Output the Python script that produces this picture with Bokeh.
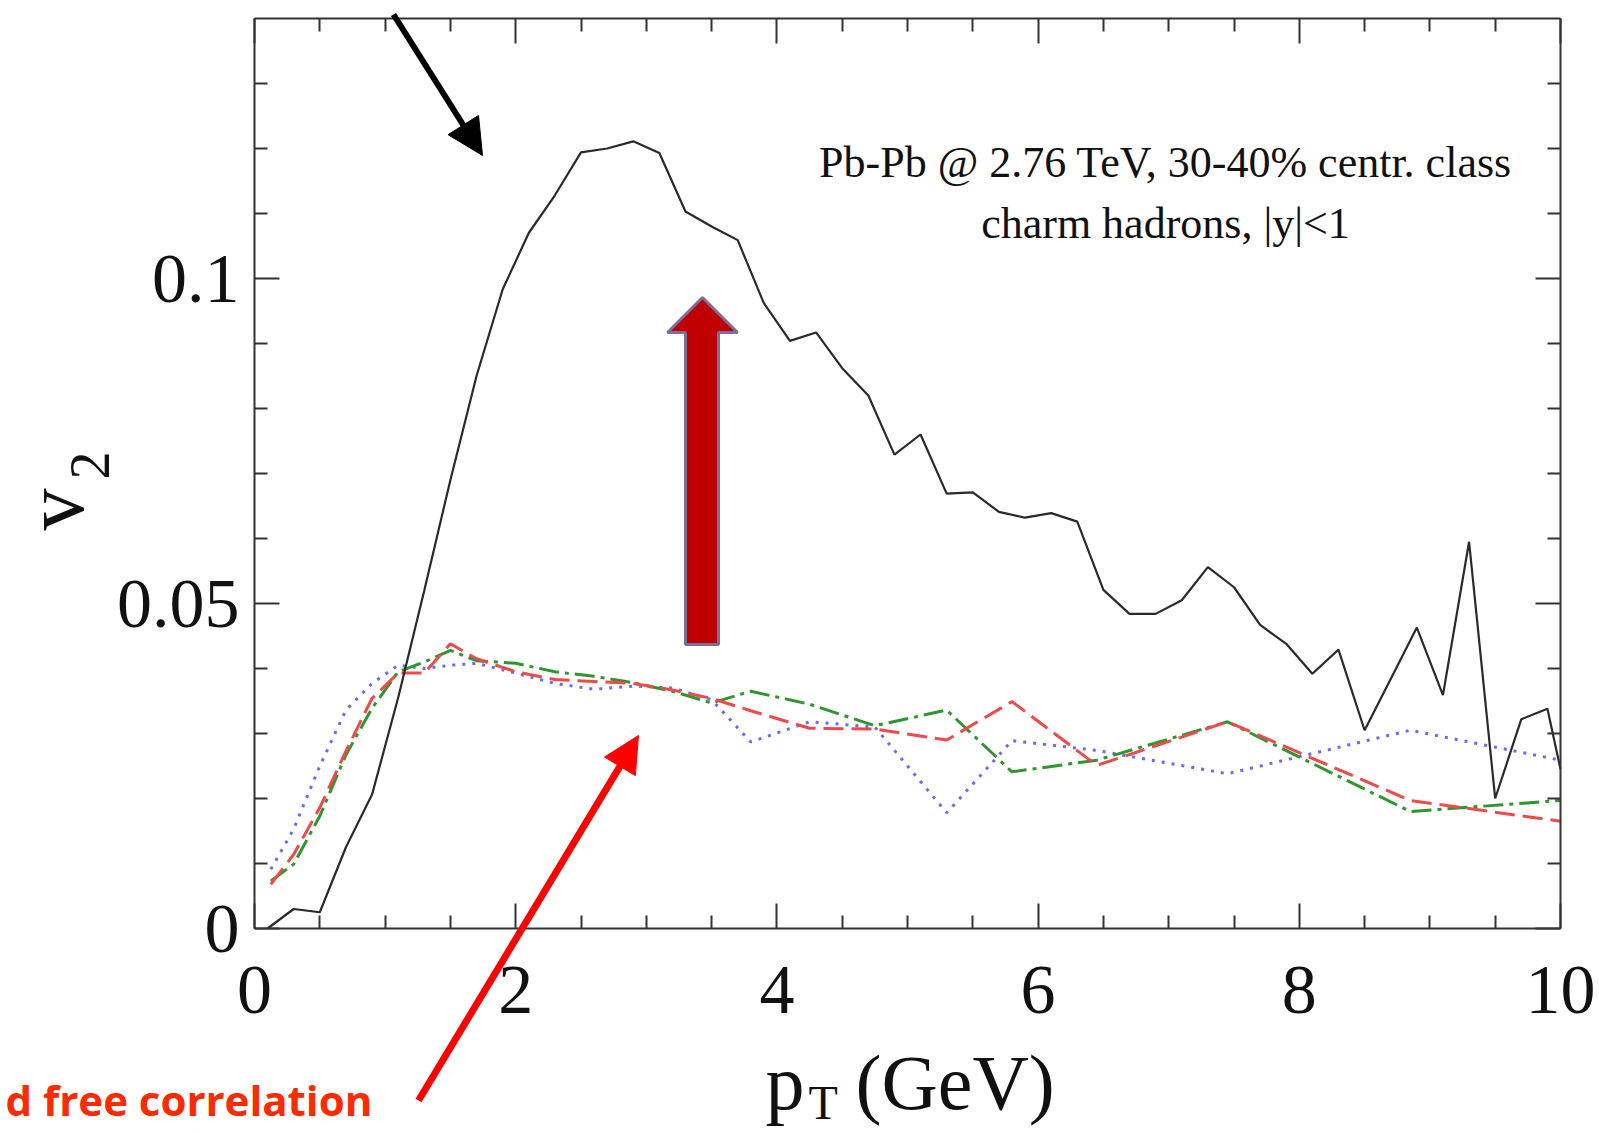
import numpy as np
from bokeh.plotting import figure
from bokeh.models import (Range1d, LinearAxis, FixedTicker, NumeralTickFormatter,
                          CustomJSTickFormatter, Label, Arrow, NormalHead, PolyAnnotation)
from bokeh.embed import file_html
from bokeh.resources import INLINE

# ---------------- data ----------------
pt_black = [0.1, 0.3, 0.5, 0.7, 0.9, 1.1, 1.3, 1.5, 1.7, 1.9,
            2.1, 2.3, 2.5, 2.7, 2.9, 3.1, 3.3, 3.5, 3.7, 3.9,
            4.1, 4.3, 4.5, 4.7, 4.9, 5.1, 5.3, 5.5, 5.7, 5.9,
            6.1, 6.3, 6.5, 6.7, 6.9, 7.1, 7.3, 7.5, 7.7, 7.9,
            8.1, 8.3, 8.5, 8.7, 8.9, 9.1, 9.3, 9.5, 9.7, 9.9, 10.0]
v2_black = [0.0000, 0.0030, 0.0025, 0.0125, 0.0206, 0.0355, 0.0520, 0.0690, 0.0850, 0.0983,
            0.1070, 0.1128, 0.1194, 0.1200, 0.1211, 0.1193, 0.1103, 0.1080, 0.1059, 0.0962,
            0.0904, 0.0917, 0.0862, 0.0820, 0.0729, 0.0760, 0.0669, 0.0671, 0.0641, 0.0632,
            0.0639, 0.0626, 0.0521, 0.0484, 0.0484, 0.0505, 0.0556, 0.0525, 0.0467, 0.0438,
            0.0392, 0.0429, 0.0305, 0.0384, 0.0463, 0.0359, 0.0595, 0.0200, 0.0322, 0.0338, 0.0245]

pt_col = [0.125, 0.3, 0.5, 0.7, 0.9, 1.1, 1.3, 1.5, 1.7, 2.0, 2.3, 2.6,
          2.9, 3.2, 3.5, 3.8, 4.25, 4.75, 5.3, 5.8, 6.45, 7.45, 8.85, 10.0]
v2_red = [0.0068, 0.0114, 0.0186, 0.0273, 0.0354, 0.0393, 0.0393, 0.0438, 0.0415, 0.0395, 0.0383, 0.0380,
          0.0377, 0.0367, 0.0354, 0.0335, 0.0308, 0.0307, 0.0290, 0.0349, 0.0251, 0.0318, 0.0197, 0.0165]
v2_green = [0.0073, 0.0099, 0.0173, 0.0267, 0.0339, 0.0395, 0.0410, 0.0428, 0.0412, 0.0408, 0.0395, 0.0388,
            0.0378, 0.0365, 0.0347, 0.0365, 0.0345, 0.0312, 0.0336, 0.0241, 0.0259, 0.0318, 0.0180, 0.0197]
v2_blue = [0.0091, 0.0153, 0.0250, 0.0336, 0.0377, 0.0405, 0.0400, 0.0405, 0.0408, 0.0393, 0.0377, 0.0368,
           0.0373, 0.0370, 0.0352, 0.0287, 0.0318, 0.0310, 0.0178, 0.0289, 0.0274, 0.0238, 0.0305, 0.0259]

x_major = [0, 2, 4, 6, 8, 10]
x_minor = [0.5, 1.0, 1.5, 2.5, 3.0, 3.5, 4.5, 5.0, 5.5, 6.5, 7.0, 7.5, 8.5, 9.0, 9.5]
y_major = [0, 0.05, 0.1]
y_minor = [0.01, 0.02, 0.03, 0.04, 0.06, 0.07, 0.08, 0.09, 0.11, 0.12, 0.13]
x_lo, x_hi = 0, 10
y_lo, y_hi = 0, 0.14

SERIF = "Liberation Serif"

# canvas geometry: plot box from x=254..1560 px, y=18..928 px (top-left origin)
W, H = 1599, 1133
BOX_L, BOX_R, BOX_T, BOX_B = 254, 1560, 18, 928
SX = (BOX_R - BOX_L) / (x_hi - x_lo)
SY = (BOX_B - BOX_T) / (y_hi - y_lo)


def dx(px):
    return x_lo + (px - BOX_L) / SX


def dy(py):
    return y_lo + (BOX_B - py) / SY


# ---------------- figure ----------------
p = figure(width=W, height=H, output_backend="svg", toolbar_location=None,
           x_range=Range1d(dx(0), dx(W)), y_range=Range1d(dy(H), dy(0)),
           min_border=0, x_axis_location=None, y_axis_location=None)
p.xgrid.visible = False
p.ygrid.visible = False
p.outline_line_color = None
p.background_fill_color = "white"
p.border_fill_color = "white"


def style_axis(ax, major, minor, show_labels):
    ax.ticker = FixedTicker(ticks=major, minor_ticks=minor)
    ax.axis_line_color = "#333333"
    ax.axis_line_width = 2
    ax.major_tick_in = 25
    ax.major_tick_out = 0
    ax.minor_tick_in = 13
    ax.minor_tick_out = 0
    ax.major_tick_line_color = "#333333"
    ax.minor_tick_line_color = "#333333"
    ax.major_tick_line_width = 2
    ax.minor_tick_line_width = 2
    if show_labels:
        ax.major_label_text_font = SERIF
        ax.major_label_text_font_size = "70px"
        ax.major_label_text_color = "#111111"
    else:
        ax.formatter = CustomJSTickFormatter(code="return ''")
        ax.major_label_text_font_size = "1px"
        ax.major_label_standoff = 0


xb = LinearAxis(fixed_location=y_lo, bounds=(x_lo, x_hi))
style_axis(xb, x_major, x_minor, True)
xb.major_label_standoff = 38
p.add_layout(xb, "below")

yl = LinearAxis(fixed_location=x_lo, bounds=(y_lo, y_hi),
                formatter=NumeralTickFormatter(format="0.[00]"))
style_axis(yl, y_major, y_minor, True)
yl.major_label_standoff = 15
p.add_layout(yl, "left")

xt = LinearAxis(fixed_location=y_hi, bounds=(x_lo, x_hi))
style_axis(xt, x_major, x_minor, False)
p.add_layout(xt, "above")

yr = LinearAxis(fixed_location=x_hi, bounds=(y_lo, y_hi))
style_axis(yr, y_major, y_minor, False)
p.add_layout(yr, "right")

# ---------------- curves ----------------
p.line(pt_col, v2_blue, line_color="#6a6af0", line_width=3, line_dash="3 7")
p.line(pt_col, v2_green, line_color="#2f962f", line_width=3, line_dash="20 6 4 6")
p.line(pt_col, v2_red, line_color="#ee4a4a", line_width=3, line_dash="20 8")
p.line(pt_black, v2_black, line_color="#2a2a2a", line_width=2.2)

# ---------------- texts ----------------
def serif_label(px, py, text, size, align="left", angle=0.0):
    return Label(x=dx(px), y=dy(py), text=text, angle=angle, text_align=align,
                 text_baseline="middle", text_font=SERIF, text_font_size=f"{size}px",
                 text_color="#111111")


p.add_layout(serif_label(1165, 162, "Pb-Pb @ 2.76 TeV, 30-40% centr. class", 44, "center"))
p.add_layout(serif_label(1165, 223, "charm hadrons, |y|<1", 44, "center"))

# axis titles (p_T (GeV) and v_2)
p.add_layout(serif_label(765, 1082, "p", 78))
p.add_layout(serif_label(808, 1102, "T", 48))
p.add_layout(serif_label(855, 1082, "(GeV)", 78))
p.add_layout(serif_label(54, 530, "v", 84, angle=np.pi / 2))
p.add_layout(serif_label(89, 479, "2", 56, angle=np.pi / 2))

# ---------------- slide annotations ----------------
p.add_layout(Arrow(end=NormalHead(size=36, fill_color="black", line_color="black"),
                   x_start=dx(393), y_start=dy(14), x_end=dx(482), y_end=dy(155),
                   line_color="black", line_width=6))
p.add_layout(Arrow(end=NormalHead(size=36, fill_color="#ff0000", line_color="#ff0000"),
                   x_start=dx(418), y_start=dy(1100), x_end=dx(638), y_end=dy(735),
                   line_color="#ff0000", line_width=7))
p.add_layout(PolyAnnotation(xs=[dx(702), dx(737), dx(718), dx(718), dx(685), dx(685), dx(667)],
                            ys=[dy(297), dy(332), dy(332), dy(644), dy(644), dy(332), dy(332)],
                            fill_color="#c00000", fill_alpha=1.0,
                            line_color="#7b6e99", line_width=3, line_alpha=1.0))
p.add_layout(Label(x=dx(5), y=dy(1099), text="d free correlation", text_align="left",
                   text_baseline="middle", text_font="Open Sans", text_font_style="bold",
                   text_font_size="42px", text_color="#ff2a00"))

open("out.html", "w").write(file_html(p, INLINE))
